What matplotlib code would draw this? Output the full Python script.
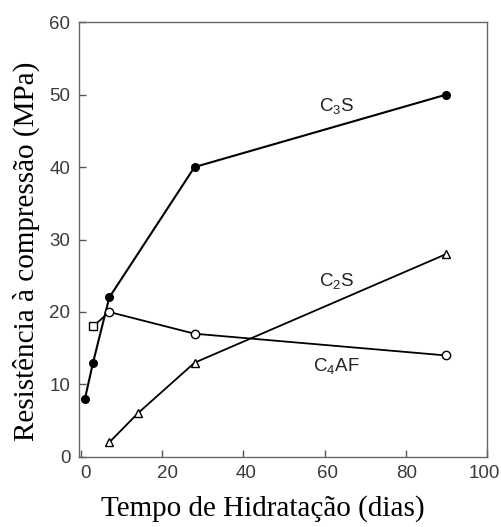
import matplotlib
matplotlib.use('Agg')
import matplotlib.pyplot as plt
from matplotlib.transforms import ScaledTranslation

# compressive strength of clinker phases vs hydration time
c3s_days = [1, 3, 7, 28, 90]
c3s_mpa = [8, 13, 22, 40, 50]

c2s_days = [7, 14, 28, 90]
c2s_mpa = [2, 6, 13, 28]

c4af_days = [3, 7, 28, 90]
c4af_mpa = [18, 20, 17, 14]

x_ticks = [0, 20, 40, 60, 80, 100]
y_ticks = [0, 10, 20, 30, 40, 50, 60]

fig = plt.figure(figsize=(5.02, 5.27), dpi=100)
ax = fig.add_axes([0.157, 0.133, 0.813, 0.825])

ax.plot(c3s_days, c3s_mpa, '-o', color='black', lw=1.5, ms=5.5, mfc='black')
ax.plot(c2s_days, c2s_mpa, '-^', color='black', lw=1.3, ms=6, mfc='white')
ax.plot(c4af_days, c4af_mpa, '-', color='black', lw=1.3)
ax.plot(c4af_days[1:], c4af_mpa[1:], 'o', color='black', ms=6, mfc='white', mew=1)
ax.plot(c4af_days[:1], c4af_mpa[:1], 's', color='black', ms=6, mfc='white', mew=1)

lbl = dict(family='Liberation Sans', fontsize=13.5, color='#222222', ha='center', va='center')
ax.text(63, 48.3, r'C$_\mathregular{3}$S', **lbl)
ax.text(63, 24.2, r'C$_\mathregular{2}$S', **lbl)
ax.text(63, 12.4, r'C$_\mathregular{4}$AF', **lbl)

ax.set_xlim(-0.5, 100)
ax.set_ylim(0, 60)
ax.set_xticks(x_ticks)
ax.set_yticks(y_ticks)
ax.tick_params(direction='in', length=5, width=1, colors='#555555', labelcolor='#3a3a3a',
               labelsize=13.5, pad=6)
# scanned original has its x labels nudged a little off the ticks
nudges = [5, 5, 3, 3, 1, -3]
for t, dx in zip(ax.get_xticklabels(), nudges):
    t.set_family('Liberation Sans')
    t.set_transform(t.get_transform() + ScaledTranslation(dx / 100, 0, fig.dpi_scale_trans))
for t in ax.get_yticklabels():
    t.set_family('Liberation Sans')
for s in ax.spines.values():
    s.set_color('#666666')
    s.set_linewidth(1)

ax.set_xlabel('Tempo de Hidratação (dias)', family='Liberation Serif', fontsize=21)
ax.set_ylabel('Resistência à compressão (MPa)', family='Liberation Serif', fontsize=21)
ax.xaxis.set_label_coords(0.45, -0.088)
ax.yaxis.set_label_coords(-0.095, 0.474)

plt.savefig('out.png', dpi=100)
